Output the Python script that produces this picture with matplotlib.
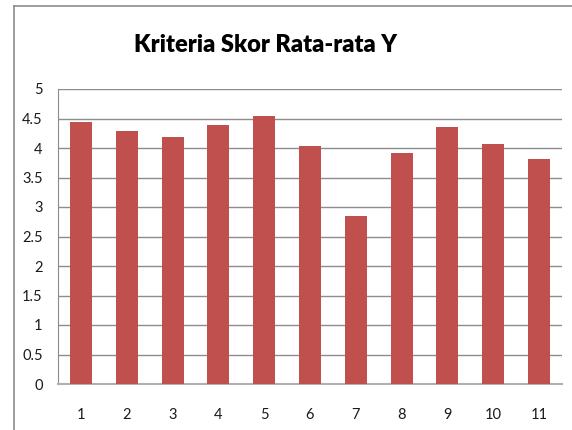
import matplotlib
matplotlib.use("Agg")
import matplotlib.pyplot as plt
from matplotlib.lines import Line2D

# data
categories = ["1", "2", "3", "4", "5", "6", "7", "8", "9", "10", "11"]
scores = [4.44, 4.29, 4.19, 4.39, 4.54, 4.03, 2.84, 3.92, 4.36, 4.07, 3.81]
y_ticks = [0, 0.5, 1, 1.5, 2, 2.5, 3, 3.5, 4, 4.5, 5]
y_labels = ["0", "0.5", "1", "1.5", "2", "2.5", "3", "3.5", "4", "4.5", "5"]

plt.rcParams['font.family'] = ['Lato', 'DejaVu Sans']

fig = plt.figure(figsize=(5.72, 4.30), dpi=100)
ax = fig.add_axes([58 / 572, 1 - 384 / 430, 504 / 572, 295 / 430])

x = list(range(len(categories)))
ax.bar(x, scores, width=0.48, color='#C0504D', zorder=3)

ax.set_xlim(-0.5, len(categories) - 0.5)
ax.set_ylim(0, 5)
ax.set_yticks(y_ticks)
ax.set_yticklabels(y_labels)
ax.set_xticks(x)
ax.set_xticklabels(categories)

ax.yaxis.grid(True, color='#8c8c8c', linewidth=1, zorder=0)
ax.tick_params(axis='y', length=0, pad=11, labelsize=10.5, colors='#1a1a1a')
ax.tick_params(axis='x', length=0, pad=17, labelsize=10.5, colors='#1a1a1a')

for side in ['top', 'right']:
    ax.spines[side].set_visible(False)
ax.spines['left'].set_color('#8c8c8c')
ax.spines['bottom'].set_color('#b0b0b0')
ax.spines['bottom'].set_linewidth(1.5)

fig.text(265 / 572, 1 - 45 / 430, 'Kriteria Skor Rata-rata Y', ha='center', va='center',
         fontsize=17, fontweight='heavy', color='#000000')

# chart frame
fig.add_artist(Line2D([13.5 / 572, 13.5 / 572], [0, 1 - 5.5 / 430], color='#8c8c8c', linewidth=1.2))
fig.add_artist(Line2D([13.5 / 572, 1], [1 - 5.5 / 430, 1 - 5.5 / 430], color='#8c8c8c', linewidth=1.2))

fig.savefig('out.png', dpi=100)
